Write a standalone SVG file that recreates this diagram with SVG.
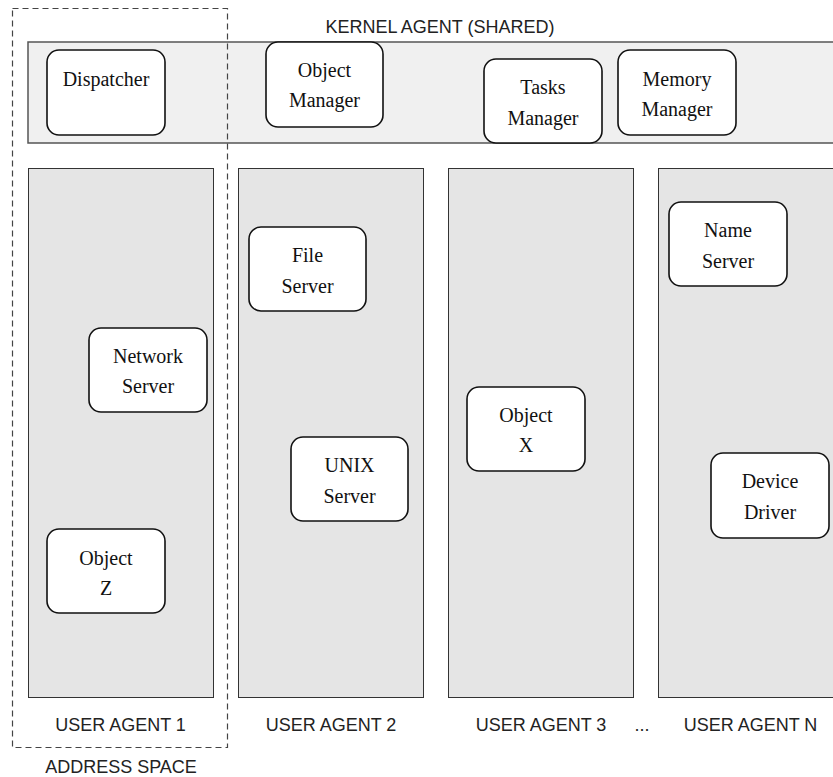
<svg xmlns="http://www.w3.org/2000/svg" width="833" height="777" viewBox="0 0 833 777">
<style>
.bar{fill:#f0f0f0;stroke:#555;stroke-width:1.5}
.col{fill:#e5e5e5;stroke:#333;stroke-width:1}
.node rect{fill:#fff;stroke:#111;stroke-width:1.6}
.node text{font-family:"Liberation Serif","Times New Roman",serif;font-size:20px;fill:#111;text-anchor:middle}
.lbl{font-family:"Liberation Sans",Arial,sans-serif;font-size:18px;fill:#222;text-anchor:middle}
.dash{fill:none;stroke:#444;stroke-width:1.2;stroke-dasharray:6 4}
</style>
<rect width="833" height="777" fill="#fff"/>
<g id="kernel">
<rect class="bar" x="28" y="42" width="820" height="101"/>
<text class="lbl" x="440" y="33">KERNEL AGENT (SHARED)</text>
</g>
<g id="user-agent-1"><rect class="col" x="28.5" y="168.5" width="185" height="529"/><text class="lbl" x="120.5" y="731">USER AGENT 1</text></g>
<g id="user-agent-2"><rect class="col" x="238.5" y="168.5" width="185" height="529"/><text class="lbl" x="331" y="731">USER AGENT 2</text></g>
<g id="user-agent-3"><rect class="col" x="448.5" y="168.5" width="185" height="529"/><text class="lbl" x="541" y="731">USER AGENT 3</text></g>
<text class="lbl" x="642" y="731">...</text>
<g id="user-agent-n"><rect class="col" x="658.5" y="168.5" width="190" height="529"/><text class="lbl" x="750.5" y="731">USER AGENT N</text></g>
<g id="address-space">
<rect class="dash" x="12.5" y="8.5" width="215" height="739"/>
<text class="lbl" x="121" y="773">ADDRESS SPACE</text>
</g>
<g id="dispatcher" class="node"><rect x="47" y="50" width="118" height="85" rx="12"/><text x="106" y="86">Dispatcher</text></g>
<g id="object-manager" class="node"><rect x="266" y="42" width="117" height="85" rx="12"/><text x="324.5" y="77">Object</text><text x="324.5" y="107">Manager</text></g>
<g id="tasks-manager" class="node"><rect x="484" y="59" width="118" height="84" rx="12"/><text x="543" y="94">Tasks</text><text x="543" y="125">Manager</text></g>
<g id="memory-manager" class="node"><rect x="618" y="50" width="118" height="85" rx="12"/><text x="677" y="86">Memory</text><text x="677" y="116">Manager</text></g>
<g id="network-server" class="node"><rect x="89" y="328" width="118" height="84" rx="12"/><text x="148" y="363">Network</text><text x="148" y="393">Server</text></g>
<g id="object-z" class="node"><rect x="47" y="529" width="118" height="84" rx="12"/><text x="106" y="565">Object</text><text x="106" y="595">Z</text></g>
<g id="file-server" class="node"><rect x="249" y="227" width="117" height="84" rx="12"/><text x="307.5" y="262">File</text><text x="307.5" y="293">Server</text></g>
<g id="unix-server" class="node"><rect x="291" y="437" width="117" height="84" rx="12"/><text x="349.5" y="472">UNIX</text><text x="349.5" y="503">Server</text></g>
<g id="object-x" class="node"><rect x="467" y="387" width="118" height="84" rx="12"/><text x="526" y="422">Object</text><text x="526" y="452">X</text></g>
<g id="name-server" class="node"><rect x="669" y="202" width="118" height="84" rx="12"/><text x="728" y="237">Name</text><text x="728" y="268">Server</text></g>
<g id="device-driver" class="node"><rect x="711" y="453" width="118" height="85" rx="12"/><text x="770" y="488">Device</text><text x="770" y="519">Driver</text></g>
<g id="connectors"/>
</svg>
